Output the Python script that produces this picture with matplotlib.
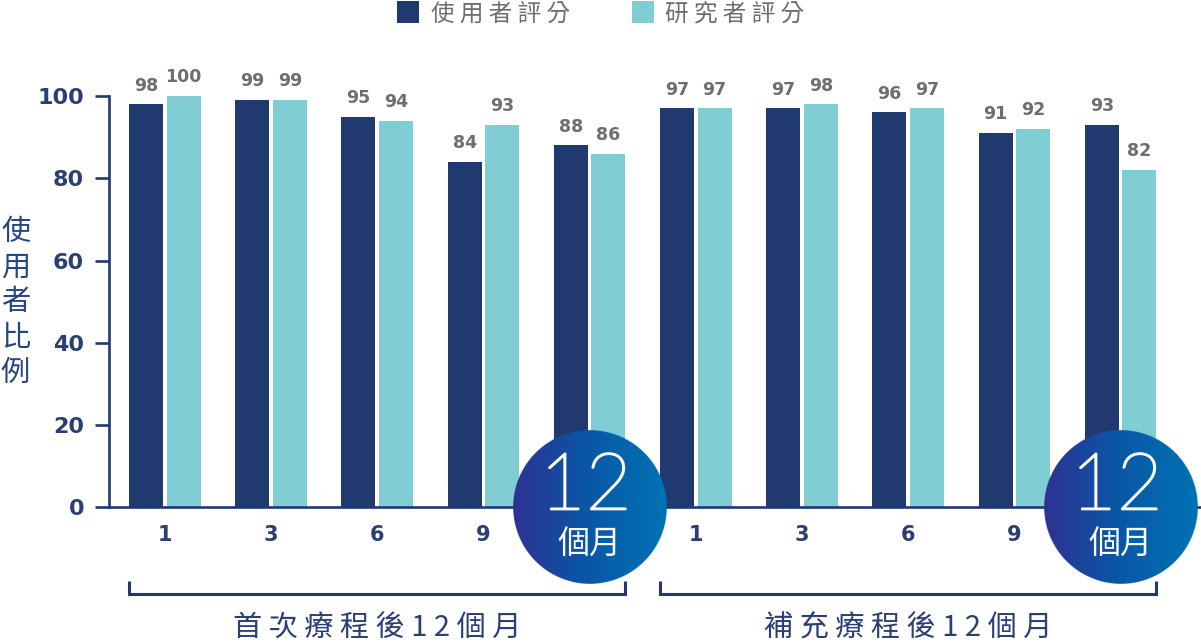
import numpy as np
import matplotlib
matplotlib.use("Agg")
import matplotlib.pyplot as plt
from matplotlib.lines import Line2D
from matplotlib.transforms import Affine2D, ScaledTranslation
from matplotlib.font_manager import FontProperties
import matplotlib.colors as mcolors
import matplotlib.patheffects as pe

# ---------------- data ----------------
groups = ["首次療程後12個月", "補充療程後12個月"]
months = ["1", "3", "6", "9", "12"]
month_unit = "個月"
series_names = ["使用者評分", "研究者評分"]
user_scores = [98, 99, 95, 84, 88, 97, 97, 96, 91, 93]
researcher_scores = [100, 99, 94, 93, 86, 97, 98, 97, 92, 82]
y_ticks = [0, 20, 40, 60, 80, 100]
y_label = "使用者比例"

# ---------------- style ----------------
NAVY = "#203a70"
NAVY_TXT = "#2a3f73"
TEAL = "#80ced4"
GREY = "#6d6e71"
CJK = ["Noto Sans CJK TC", "DejaVu Sans"]
plt.rcParams["font.family"] = ["DejaVu Sans", "Noto Sans CJK TC"]

W, H = 1201, 642
fig = plt.figure(figsize=(W / 100, H / 100), dpi=100)
ax_left, ax_bottom_px, ax_top_px = 109, 507.3, 96
ax = fig.add_axes([ax_left / W, (H - ax_bottom_px) / H,
                   1 - ax_left / W, (ax_bottom_px - ax_top_px) / H])

n = len(user_scores)
x = np.arange(n)
bw = 0.32
off = 0.177

b1 = ax.bar(x - off, user_scores, bw, color=NAVY, zorder=2)
b2 = ax.bar(x + off, researcher_scores, bw, color=TEAL, zorder=2)

lab_kw = dict(padding=7, fontsize=12.5, fontweight="bold", color=GREY, zorder=7)
ax.bar_label(b1, **lab_kw)
ax.bar_label(b2, **lab_kw)

# axes styling
for s in ["top", "right"]:
    ax.spines[s].set_visible(False)
for s in ["left", "bottom"]:
    ax.spines[s].set_color(NAVY)
    ax.spines[s].set_linewidth(1.9)
ax.set_yticks(y_ticks)
ax.set_yticklabels([str(v) for v in y_ticks])
ax.tick_params(axis="y", length=10, width=1.9, color=NAVY, pad=8,
               labelsize=16, labelcolor=NAVY_TXT)
for t in ax.get_yticklabels():
    t.set_fontweight("bold")

nm = len(months)
xt_labels = [months[i % nm] if (i % nm) != nm - 1 else "" for i in range(n)]
ax.set_xticks(x)
ax.set_xticklabels(xt_labels)
ax.tick_params(axis="x", length=0, pad=13, labelsize=15, labelcolor=NAVY_TXT)
for t in ax.get_xticklabels():
    t.set_fontweight("bold")

# ---------------- gradient circles ----------------
R = 77
grad = mcolors.LinearSegmentedColormap.from_list(
    "g", [(0, "#2e3192"), (0.45, "#0b55a5"), (1, "#0073b4")])
N = 400
gx = np.linspace(-1, 1, N)
XX, YY = np.meshgrid(gx, gx)
rgba = grad((XX + 1) / 2)
rr = np.sqrt(XX ** 2 + YY ** 2)
rgba[..., 3] = np.clip((1 - rr) * N / 2 + 0.5, 0, 1)

for g in range(len(groups)):
    xc = g * nm + nm - 1
    trans = Affine2D().scale(R) + ScaledTranslation(xc, 0, ax.transData)
    im = ax.imshow(rgba, extent=(-1, 1, -1, 1), transform=trans,
                   aspect="auto", zorder=5, interpolation="antialiased")
    im.set_clip_on(False)
    ax.annotate(months[-1], xy=(xc, 0), xytext=(-4, -2),
                textcoords="offset pixels", ha="center", va="baseline",
                fontsize=57, color="white", family=["Lato", "DejaVu Sans"],
                fontweight="light", zorder=8, annotation_clip=False,
                path_effects=[pe.withStroke(linewidth=1.5, foreground="white")])
    ax.annotate(month_unit, xy=(xc, 0), xytext=(0, -37),
                textcoords="offset pixels", ha="center", va="center",
                fontsize=23, color="white", family=CJK,
                fontweight="light", zorder=8, annotation_clip=False)

ax.set_ylim(0, 100)
ax.set_xlim(-0.525, 9.757)

# ---------------- brackets & group labels ----------------
xa = ax.get_xaxis_transform()
span = ax_bottom_px - ax_top_px
y_lo, y_hi = (ax_bottom_px - 594) / span, (ax_bottom_px - 581) / span
y_txt = (ax_bottom_px - 629) / span
for g, name in enumerate(groups):
    x0 = g * nm - off - bw / 2
    x1 = g * nm + nm - 1 + off + bw / 2
    ax.plot([x0, x0, x1, x1], [y_hi, y_lo, y_lo, y_hi], transform=xa,
            clip_on=False, color=NAVY, lw=2.2, solid_joinstyle="miter",
            solid_capstyle="butt")
    ax.text((x0 + x1) / 2, y_txt, " ".join(name), transform=xa,
            ha="center", va="center", fontsize=21, color=NAVY_TXT, family=CJK)

# ---------------- y label ----------------
fig.text(15.5 / W, 1 - 302.5 / H, "\n".join(y_label), ha="center", va="center",
         fontsize=21, color="#27457f", family=CJK, linespacing=1.22)

# ---------------- legend ----------------
handles = [Line2D([], [], marker="s", ls="none", ms=16, mfc=c, mec=c, mew=0)
           for c in (NAVY, TEAL)]
fig.legend(handles, [" ".join(s) for s in series_names], loc="center",
           bbox_to_anchor=(0.5, 1 - 14 / H), ncol=2, frameon=False,
           prop=FontProperties(family=CJK, size=17), labelcolor=GREY,
           handletextpad=0.45, columnspacing=2.6, borderpad=0,
           handlelength=1.0, borderaxespad=0)

fig.savefig("out.png", dpi=100)
